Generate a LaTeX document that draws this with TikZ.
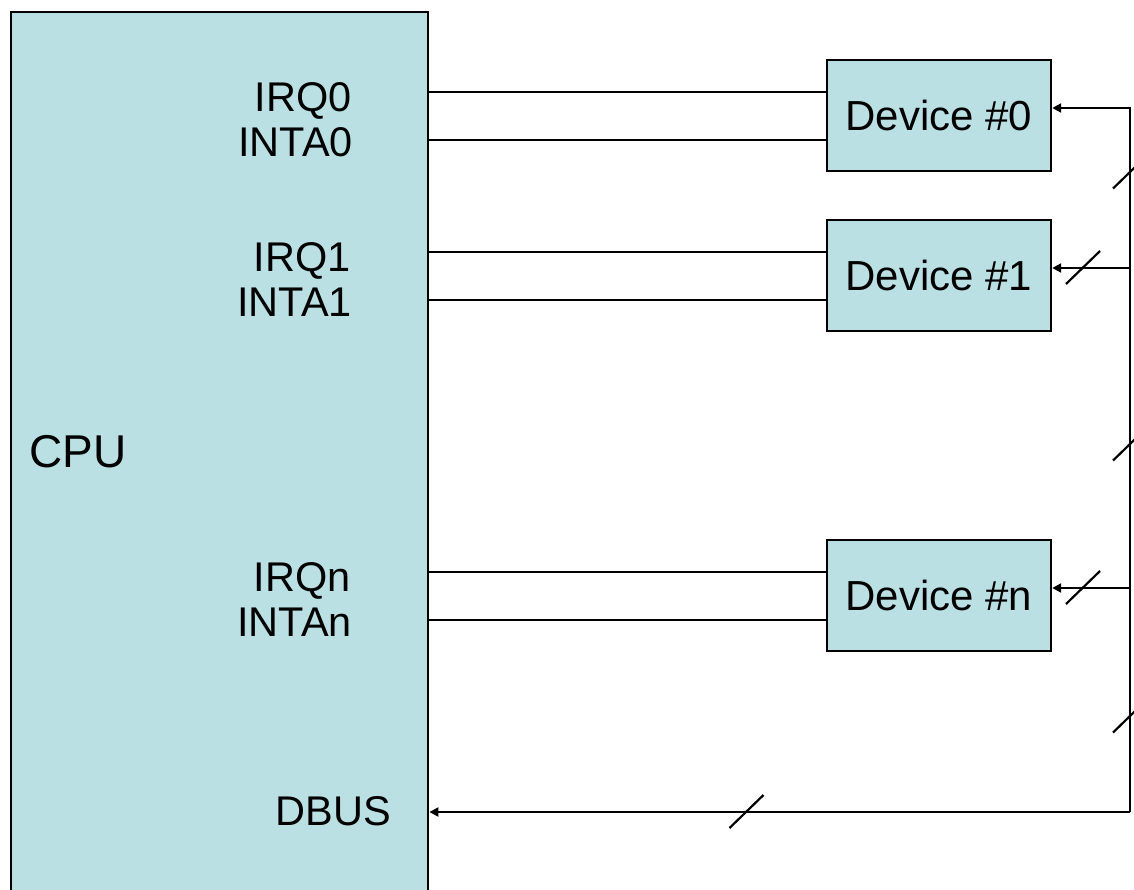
\documentclass[tikz,border=0pt]{standalone}
\usepackage{fontspec}
\setmainfont{Liberation Sans}
\usetikzlibrary{arrows.meta}
\definecolor{boxfill}{HTML}{BBE0E3}
\begin{document}
\begin{tikzpicture}[x=1pt,y=-1pt,
  box/.style={draw, line width=2.4pt, fill=boxfill, inner sep=0pt},
  devbox/.style={box, minimum width=224pt, minimum height=111pt, font=\fontsize{42}{50}\selectfont},
  lbl/.style={font=\fontsize{41.5}{50}\selectfont, inner sep=0pt, anchor=base east},
  wire/.style={line width=2.2pt},
  arr/.style={line width=2.2pt, -{Triangle[length=9pt,width=9pt]}},
  slashline/.style={line width=2.2pt}]
\useasboundingbox (0,0) rectangle (1134,889);
% CPU
\node[box, anchor=north west, minimum width=417pt, minimum height=920pt] (cpu) at (10,11) {};
\node[lbl, anchor=base west, font=\fontsize{46}{54}\selectfont] (cpulbl) at (29,467) {CPU};
\node[lbl] (irq0l) at (352,111) {IRQ0};
\node[lbl] (inta0l) at (353,156) {INTA0};
\node[lbl] (irq1l) at (351,271) {IRQ1};
\node[lbl] (inta1l) at (352,316) {INTA1};
\node[lbl] (irqnl) at (351,591) {IRQn};
\node[lbl] (intanl) at (352,636) {INTAn};
\node[lbl] (dbusl) at (391,825) {DBUS};
% devices
\node[devbox] (d0) at (939,115.5) {Device \#0};
\node[devbox] (d1) at (939,275.5) {Device \#1};
\node[devbox] (dn) at (939,595.5) {Device \#n};
% wire levels
\coordinate (irq0) at (0,92);
\coordinate (inta0) at (0,140);
\coordinate (irq1) at (0,252);
\coordinate (inta1) at (0,300);
\coordinate (irqn) at (0,572);
\coordinate (intan) at (0,620);
\draw[wire] (cpu.east |- irq0) -- (d0.west |- irq0);
\draw[wire] (cpu.east |- inta0) -- (d0.west |- inta0);
\draw[wire] (cpu.east |- irq1) -- (d1.west |- irq1);
\draw[wire] (cpu.east |- inta1) -- (d1.west |- inta1);
\draw[wire] (cpu.east |- irqn) -- (dn.west |- irqn);
\draw[wire] (cpu.east |- intan) -- (dn.west |- intan);
% bus
\coordinate (bt) at (1130,108);
\coordinate (b1) at (1130,268);
\coordinate (bn) at (1130,588);
\coordinate (bb) at (1130,812);
\draw[arr] (bb) -- (bt) -- (bt -| d0.east);
\draw[arr] (b1) -- (b1 -| d1.east);
\draw[arr] (bn) -- (bn -| dn.east);
\draw[arr] (bb) -- (bb -| cpu.east);
% bus-width slashes
\coordinate (s0) at (1130,172);
\coordinate (s2) at (1130,444);
\coordinate (s3) at (1130,716);
\coordinate (s1) at (1083,267.5);
\coordinate (sn) at (1083,587.5);
\coordinate (sb) at (746.5,811.5);
\foreach \s in {s0,s1,s2,s3,sn,sb}
  \draw[slashline] (\s) ++(-17,16.5) -- ++(34,-33);
\end{tikzpicture}
\end{document}
